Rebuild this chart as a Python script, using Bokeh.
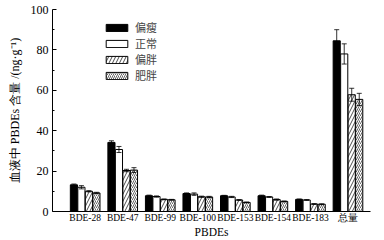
from bokeh.plotting import figure
from bokeh.models import ColumnDataSource, Whisker, Legend, LegendItem, FixedTicker
from bokeh.embed import file_html
from bokeh.resources import INLINE

categories = ["BDE-28", "BDE-47", "BDE-99", "BDE-100", "BDE-153", "BDE-154", "BDE-183", "总量"]
groups = ["偏瘦", "正常", "偏胖", "肥胖"]
thin = [13.2, 34.2, 7.8, 8.9, 7.8, 7.8, 6.0, 84.5]
normal = [12.0, 30.7, 7.4, 8.6, 7.2, 7.2, 5.7, 78.0]
over = [10.0, 20.3, 6.0, 7.3, 5.7, 5.9, 3.7, 57.8]
obese = [9.2, 20.5, 5.8, 7.2, 4.5, 5.0, 3.6, 55.5]
thin_err = [0.4, 0.8, 0.3, 0.3, 0.2, 0.3, 0.2, 5.5]
normal_err = [0.8, 1.5, 0.3, 0.6, 0.3, 0.2, 0.2, 5.0]
over_err = [0.3, 0.6, 0.2, 0.3, 0.2, 0.3, 0.2, 3.2]
obese_err = [0.3, 1.2, 0.2, 0.3, 0.2, 0.2, 0.2, 3.0]

SERIF = "Liberation Serif"

p = figure(width=384, height=240, x_range=(0.13, 8.6), y_range=(0, 100),
           output_backend="svg", toolbar_location=None,
           min_border_left=52, min_border_right=14, min_border_top=9, min_border_bottom=0)
p.outline_line_color = None
p.grid.grid_line_color = None
p.background_fill_color = "white"

series = [thin, normal, over, obese]
errs = [thin_err, normal_err, over_err, obese_err]
offsets = [-0.3, -0.1, 0.1, 0.3]
styles = [
    dict(fill_color="black"),
    dict(fill_color="white"),
    dict(fill_color="white", hatch_pattern="/", hatch_scale=7, hatch_weight=0.7, hatch_color="black"),
    dict(fill_color="white", hatch_pattern="/", hatch_scale=4, hatch_weight=0.6, hatch_color="black"),
]
renderers = []
for vals, err, off, st in zip(series, errs, offsets, styles):
    xs = [i + 1 + off for i in range(len(categories))]
    src = ColumnDataSource(dict(x=xs, top=vals,
                                upper=[v + e for v, e in zip(vals, err)],
                                lower=[v - e for v, e in zip(vals, err)]))
    r = p.vbar(x="x", top="top", width=0.19, source=src, line_color="black", line_width=1, **st)
    renderers.append(r)
    w = Whisker(base="x", upper="upper", lower="lower", source=src,
                line_color="black", line_width=0.8, level="overlay")
    w.upper_head.size = 5
    w.lower_head.size = 5
    w.upper_head.line_width = 0.8
    w.lower_head.line_width = 0.8
    p.add_layout(w)

p.xaxis.ticker = FixedTicker(ticks=list(range(1, len(categories) + 1)))
p.xaxis.major_label_overrides = {i + 1: c for i, c in enumerate(categories)}
p.xaxis.major_tick_line_color = None
p.xaxis.minor_tick_line_color = None
p.xaxis.major_tick_in = 0
p.xaxis.major_tick_out = 0
p.xaxis.minor_tick_in = 0
p.xaxis.minor_tick_out = 0
p.xaxis.major_label_standoff = 1
p.xaxis.axis_label = "PBDEs"
p.xaxis.axis_label_standoff = 0
p.xaxis.axis_label_text_font_style = "normal"
p.xaxis.axis_label_text_font = SERIF
p.xaxis.axis_label_text_font_size = "11.5px"
p.xaxis.major_label_text_font = SERIF
p.xaxis.major_label_text_font_size = "9.5px"

p.yaxis.ticker = FixedTicker(ticks=[0, 20, 40, 60, 80, 100], minor_ticks=[10, 30, 50, 70, 90])
p.yaxis.major_tick_in = 4
p.yaxis.major_tick_out = 0
p.yaxis.minor_tick_in = 2
p.yaxis.minor_tick_out = 0
p.yaxis.major_label_standoff = 4
p.yaxis.major_label_text_font = SERIF
p.yaxis.major_label_text_font_size = "12px"
p.yaxis.axis_label = "血液中 PBDEs 含量 /(ng·g⁻¹)"
p.yaxis.axis_label_standoff = 6
p.yaxis.axis_label_text_font_style = "normal"
p.yaxis.axis_label_text_font = SERIF
p.yaxis.axis_label_text_font_size = "12px"
for ax in (p.xaxis, p.yaxis):
    ax.axis_line_color = "black"
    ax.axis_line_width = 1
    ax.major_label_text_color = "black"
    ax.axis_label_text_color = "black"

legend = Legend(items=[LegendItem(label=g, renderers=[r]) for g, r in zip(groups, renderers)],
                location=(51, 128), border_line_color=None, background_fill_alpha=0,
                glyph_width=27, glyph_height=9, label_height=11, spacing=0, padding=0,
                label_standoff=5, label_text_font="Noto Sans CJK SC", label_text_font_size="11px",
                margin=0)
p.add_layout(legend, "center")

open("out.html", "w").write(file_html(p, INLINE))
